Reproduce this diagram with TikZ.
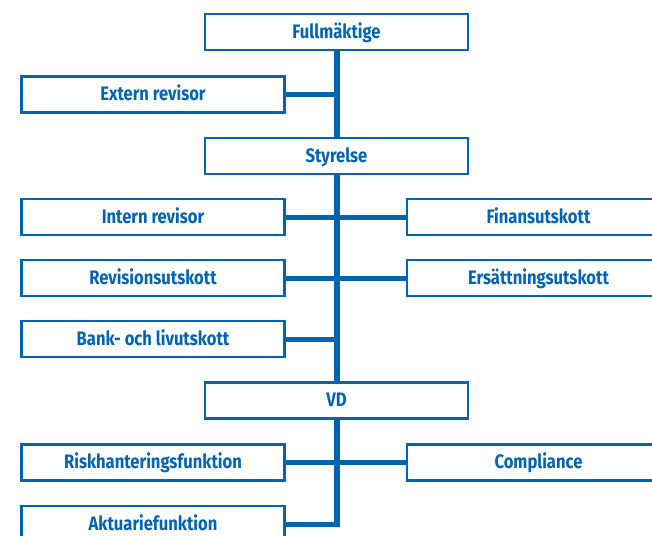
\documentclass[tikz,border=0pt]{standalone}
\usepackage{fontspec}
\setmainfont{Fira Sans}[FakeStretch=0.85]
\definecolor{lfblue}{HTML}{0064B0}
\begin{document}
\begin{tikzpicture}[x=1pt,y=-1pt,
  orgbox/.style={draw=lfblue,line width=2.8pt,fill=white,minimum width=263pt,minimum height=36pt,inner sep=0pt,
    text height=12.5pt,text depth=0pt,
    text=lfblue,font=\bfseries\fontsize{19.5}{21}\selectfont},
  trunk/.style={draw=lfblue,line width=6pt},
  branch/.style={draw=lfblue,line width=5pt}]
\useasboundingbox (0,0) rectangle (652,535);
\clip (0,0) rectangle (652,535);
\coordinate (top) at (337,51);
\coordinate (bot) at (337,526.5);
\draw[trunk] (top) -- (bot);
\node[orgbox] (full) at (336.5,32) {Fullmäktige};
\node[orgbox] (ext) at (153,94.5) {Extern revisor};
\node[orgbox] (sty) at (336.5,156) {Styrelse};
\node[orgbox] (intr) at (153,217) {Intern revisor};
\node[orgbox] (fin) at (538.5,217) {Finansutskott};
\node[orgbox] (rev) at (153,278) {Revisionsutskott};
\node[orgbox] (ers) at (538.5,278) {Ersättningsutskott};
\node[orgbox] (bank) at (153,339) {Bank- och livutskott};
\node[orgbox] (vd) at (336.5,400.5) {VD};
\node[orgbox] (risk) at (153,462.5) {Riskhanteringsfunktion};
\node[orgbox] (comp) at (538.5,462.5) {Compliance};
\node[orgbox] (akt) at (153,524) {Aktuariefunktion};
\draw[branch] (ext.east) -- (ext.east -| top);
\draw[branch] (intr.east) -- (fin.west);
\draw[branch] (rev.east) -- (ers.west);
\draw[branch] (bank.east) -- (bank.east -| top);
\draw[branch] (risk.east) -- (comp.west);
\draw[branch] (akt.east) -- (akt.east -| top);
\end{tikzpicture}
\end{document}
